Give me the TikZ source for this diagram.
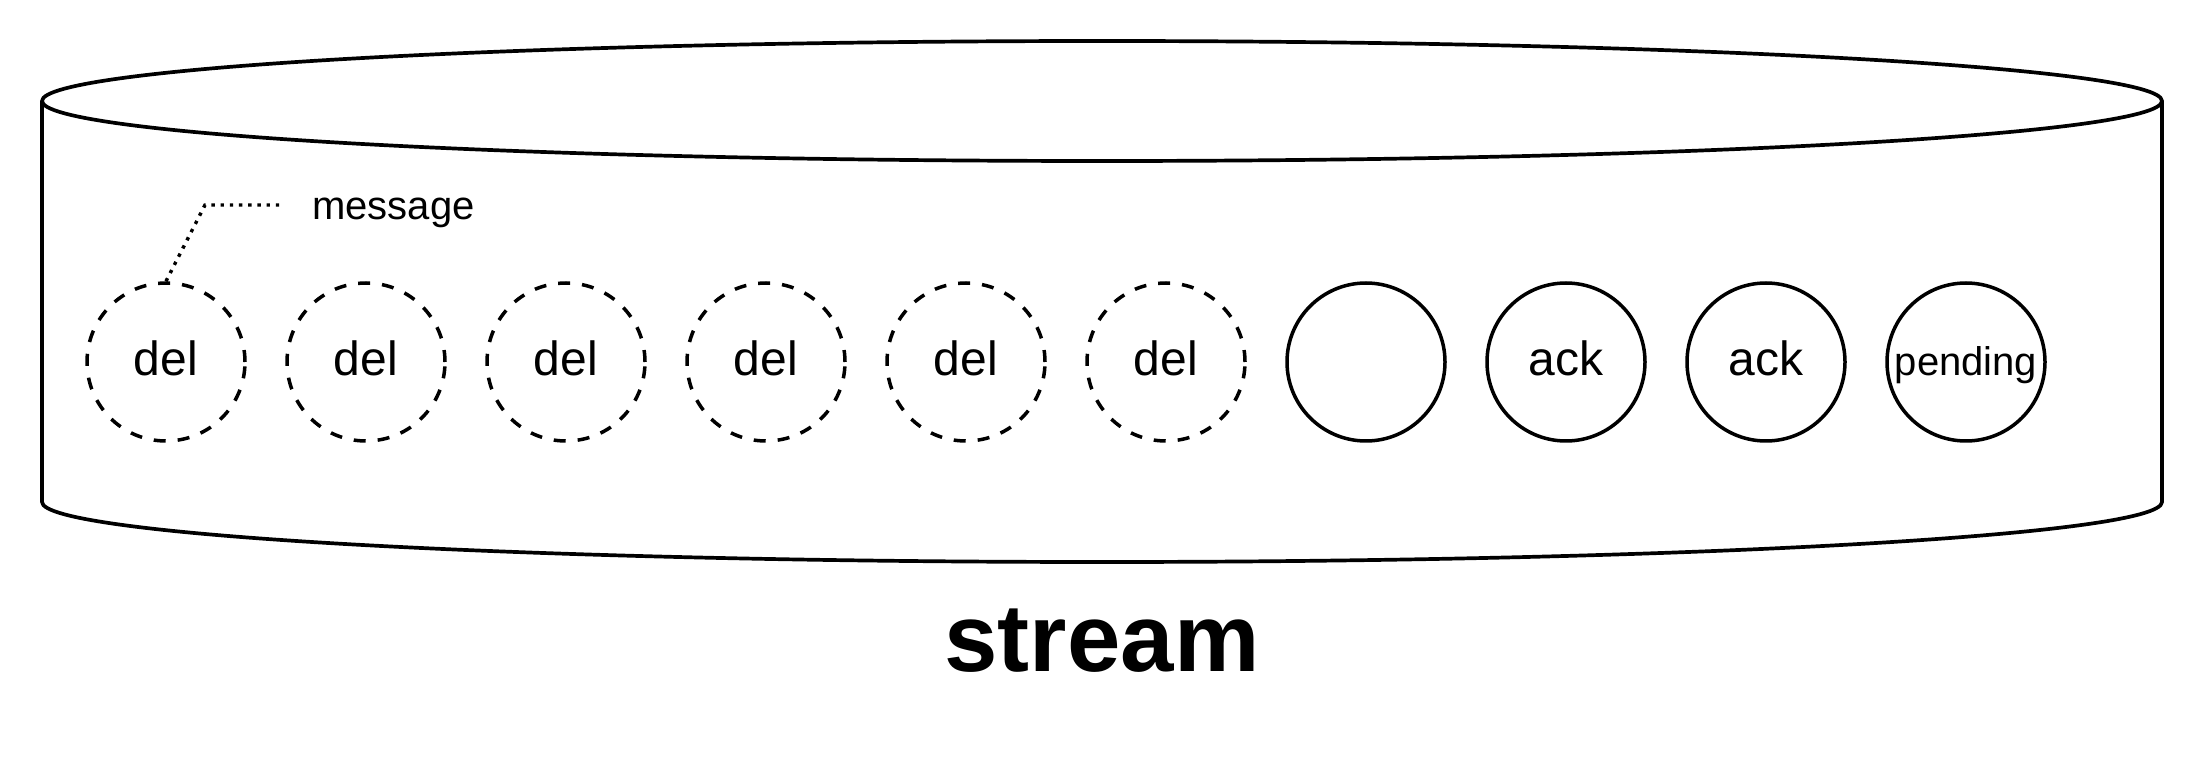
\documentclass[tikz,border=0pt]{standalone}
\usepackage{fontspec}
\setmainfont{Liberation Sans}
\begin{document}
\begin{tikzpicture}[x=1pt,y=1pt,
  outline/.style={line width=3.7pt, line join=round},
  msg/.style={circle, draw, line width=3.5pt, minimum size=158pt, inner sep=0pt,
    text height=34pt, text depth=6pt, font=\fontsize{48}{58}\selectfont},
  delmsg/.style={msg, dash pattern=on 12pt off 12pt},
  small/.style={font=\fontsize{40}{48}\selectfont},
  leader/.style={line width=3.4pt, dash pattern=on 3.4pt off 5.8pt}
]
\useasboundingbox (0,0) rectangle (2204,764);
% cylinder
\draw[outline] (42,663) arc[start angle=180, end angle=0, x radius=1060, y radius=60]
  -- (2162,262) arc[start angle=0, end angle=-180, x radius=1060, y radius=60] -- cycle;
\draw[outline] (42,663) arc[start angle=180, end angle=360, x radius=1060, y radius=60];
% messages
\node[delmsg] (c1) at (166,402) {del};
\node[delmsg] (c2) at (366,402) {del};
\node[delmsg] (c3) at (566,402) {del};
\node[delmsg] (c4) at (766,402) {del};
\node[delmsg] (c5) at (966,402) {del};
\node[delmsg] (c6) at (1166,402) {del};
\node[msg] (c7) at (1366,402) {};
\node[msg] (c8) at (1566,402) {ack};
\node[msg] (c9) at (1766,402) {ack};
\node[msg, font=\fontsize{40}{48}\selectfont] (c10) at (1966,402) {pending};
% label
\node[small, anchor=base west, inner sep=0pt] (lbl) at (312,544) {message};
\coordinate (bend) at (205,559);
\coordinate (lend) at (283,559);
\draw[leader] (c1.north) -- (bend) -- (lend);
% title
\node[anchor=base, inner sep=0pt, font=\bfseries\fontsize{96}{115}\selectfont] (title) at (1102,93) {stream};
\end{tikzpicture}
\end{document}
